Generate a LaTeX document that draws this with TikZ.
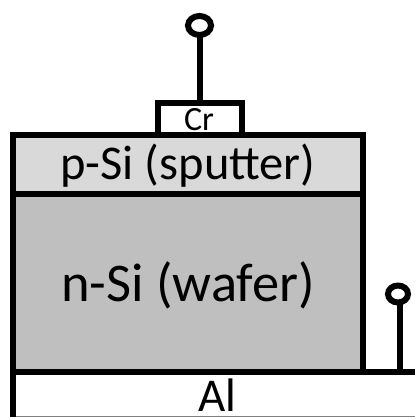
\documentclass[tikz,border=0pt]{standalone}
\usepackage{fontspec}
\setmainfont{Carlito}
\usetikzlibrary{shapes.geometric}
\begin{document}
\begin{tikzpicture}[x=1pt,y=-1pt,
  layer/.style={draw=black,line width=6pt,line join=miter,anchor=north west,inner sep=0pt,outer sep=0pt},
  wire/.style={draw=black,line width=6pt},
  term/.style={ellipse,draw=black,line width=6pt,fill=white,inner sep=0pt,outer sep=0pt}]
\useasboundingbox (0,0) rectangle (415,417);
\fill[white] (0,0) rectangle (415,417);
% Al
\draw[gray,line width=1pt] (13,416.5) -- (415,416.5);
\draw[line width=6pt] (12.8,371.7) -- (12.8,417);
\coordinate (rail) at (415,371.7);
\node[font=\fontsize{47}{47}\selectfont,inner sep=0pt] (al) at (217.5,395.5) {Al};
% Cr contact
\node[layer,fill=white,minimum width=84pt,minimum height=31.5pt] (cr) at (157.8,103) {};
% layers
\node[layer,fill=gray!30,minimum width=350.5pt,minimum height=59.2pt] (p) at (12.8,134.5) {};
\node[layer,fill=gray!50,minimum width=350.5pt,minimum height=178pt] (n) at (12.8,193.7) {};
\node[font=\fontsize{34}{34}\selectfont,inner sep=0pt] (crt) at (199,119.5) {Cr};
\node[font=\fontsize{48.5}{48.5}\selectfont,inner sep=0pt] (pt) at (188,166) {p-Si (sputter)};
\node[font=\fontsize{54.5}{54.5}\selectfont,inner sep=0pt] (nt) at (188,285) {n-Si (wafer)};
\draw[wire] (n.south east) -- (rail);
% terminals
\node[term,minimum width=23pt,minimum height=19pt] (t1) at (199.5,25.5) {};
\node[term,minimum width=20pt,minimum height=17pt] (t2) at (398,294) {};
\coordinate (r1) at (200,103);
\coordinate (r2) at (399.7,371.7);
\draw[wire] (r1) -- (r1 |- t1.south);
\draw[wire] (r2) -- (r2 |- t2.south);
\end{tikzpicture}
\end{document}
